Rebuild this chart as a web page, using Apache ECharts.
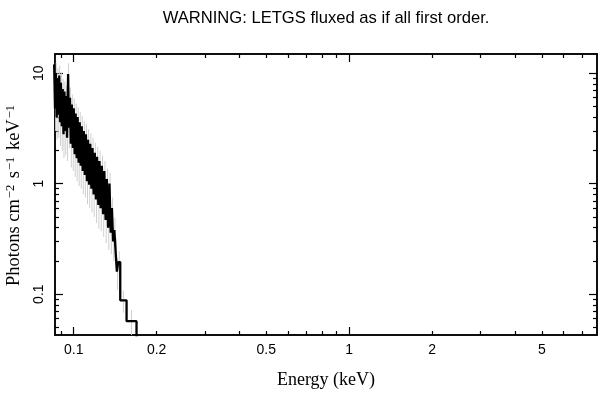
<!DOCTYPE html>
<html><head><meta charset="utf-8">
<script src="https://cdn.jsdelivr.net/npm/echarts@6/dist/echarts.min.js"></script>
<style>html,body{margin:0;padding:0;background:#fff}#c{width:608px;height:399px}</style>
</head><body><div id="c"></div>
<script>
const titleText = 'WARNING: LETGS fluxed as if all first order.';
const xName = 'Energy (keV)';
const energy = [0.0849,0.0855,0.0861,0.0867,0.0873,0.0879,0.0886,0.0892,0.0898,0.0905,0.0912,0.0918,0.0925,0.0932,0.0939,0.0946,
  0.0954,0.0961,0.0969,0.0976,0.0984,0.0992,0.1000,0.1008,0.1016,0.1025,0.1033,0.1042,
  0.1051,0.1060,0.1069,0.1078,0.1088,0.1097,0.1107,0.1117,0.1127,0.1137,0.1148,
  0.1159,0.1170,0.1181,0.1192,0.1204,0.1215,0.1228,0.1240,0.1252,
  0.1265,0.1278,0.1291,0.1305,0.1319,0.1333,0.1348,0.1362,
  0.1376,0.1390,0.1404,0.1418,0.1434,0.1450,0.1475,0.1555,0.1690];
const flux = [12.0,4.8,10.0,4.0,9.0,4.2,9.5,3.6,8.2,3.3,7.2,2.8,6.8,3.0,6.2,2.6,
  9.8,3.2,6.0,2.3,5.2,2.1,4.8,1.85,4.3,1.7,4.0,1.55,
  3.6,1.45,3.3,1.3,3.0,1.2,2.8,1.05,2.5,0.98,2.3,
  0.9,2.1,0.8,1.9,0.72,1.75,0.64,1.6,0.6,
  1.45,0.53,1.3,0.47,1.1,0.4,1.0,0.36,
  0.6,0.3,0.38,0.25,0.16,0.195,0.088,0.057,0.012];
const fluxErr = [3.0,1.8,2.4,1.5,2.1,1.6,2.2,1.4,1.9,1.3,1.7,1.1,1.6,1.2,1.5,1.0,
  2.5,1.1,1.4,0.9,1.2,0.8,1.1,0.7,1.0,0.65,0.9,0.6,
  0.85,0.55,0.8,0.5,0.7,0.45,0.65,0.4,0.6,0.38,0.55,
  0.35,0.5,0.3,0.45,0.28,0.4,0.25,0.38,0.23,
  0.34,0.2,0.3,0.18,0.27,0.15,0.25,0.13,
  0.15,0.1,0.11,0.07,0.05,0.05,0.02,0.015,0];
const xTickLabels = [0.1,0.2,0.5,1,2,5];
const xMajorTicks = [0.1,1];
const xMinorTicks = [0.09,0.2,0.3,0.4,0.5,0.6,0.7,0.8,0.9,2,3,4,5,6,7];
const yTickLabels = [0.1,1,10];
const yMajorTicks = [0.1,1,10];
const yMinorTicks = [0.05,0.06,0.07,0.08,0.09,0.2,0.3,0.4,0.5,0.6,0.7,0.8,0.9,2,3,4,5,6,7,8,9];
const X_MIN = 0.0855, X_MAX = 7.93, Y_MIN = 0.0427, Y_MAX = 14.9;

const lineData = energy.map((e,i)=>[e, flux[i]]);
const errData = [];
for (let i=0;i<energy.length-1;i++){
  if (fluxErr[i] > 0) {
    const xc = Math.sqrt(energy[i]*energy[i+1]);
    errData.push([xc, Math.max(flux[i]-fluxErr[i], 1e-4), flux[i]+fluxErr[i]]);
  }
}

const sans = 'Liberation Sans';
const serif = 'Liberation Serif';
function xAxisDef(pos, ticks, len, labels, extra){
  return Object.assign({
    type:'log', logBase:10, min:X_MIN, max:X_MAX, position:pos, gridIndex:0,
    axisLine:{show:true, onZero:false, lineStyle:{color:'#000', width:1.5}},
    axisTick:{show:true, inside:true, length:len, customValues:ticks, lineStyle:{color:'#000', width:1.2}},
    axisLabel: labels ? {show:true, customValues:labels, formatter:v=>String(+v.toPrecision(6)), color:'#000', fontFamily:sans, fontSize:14, margin:8} : {show:false},
    splitLine:{show:false}, minorTick:{show:false}, minorSplitLine:{show:false}
  }, extra||{});
}
function yAxisDef(pos, ticks, len, labels, extra){
  return Object.assign({
    type:'log', logBase:10, min:Y_MIN, max:Y_MAX, position:pos, gridIndex:0,
    axisLine:{show:true, onZero:false, lineStyle:{color:'#000', width:1.5}},
    axisTick:{show:true, inside:true, length:len, customValues:ticks, lineStyle:{color:'#000', width:1.2}},
    axisLabel: labels ? {show:true, customValues:labels, rotate:90, formatter:v=>String(+v.toPrecision(6)), color:'#000', fontFamily:sans, fontSize:14, margin:9} : {show:false},
    splitLine:{show:false}, minorTick:{show:false}, minorSplitLine:{show:false}
  }, extra||{});
}

const chart = echarts.init(document.getElementById('c'), null, {renderer:'canvas'});
chart.setOption({
  animation:false,
  backgroundColor:'#fff',
  graphic:[{type:'text', x:326, y:18, style:{text:titleText, fill:'#000', font:'16.6px "Liberation Sans"', textAlign:'center', textVerticalAlign:'middle'}}],
  grid:{left:55, right:11, top:54, bottom:64, containLabel:false, outerBoundsMode:'none'},
  xAxis:[
    xAxisDef('bottom', xMajorTicks, 8, xTickLabels, {name:xName, nameLocation:'middle', nameGap:36, nameTextStyle:{color:'#000', fontFamily:serif, fontSize:18}}),
    xAxisDef('bottom', xMinorTicks, 4, null),
    xAxisDef('top', xMajorTicks, 8, null),
    xAxisDef('top', xMinorTicks, 4, null)
  ],
  yAxis:[
    yAxisDef('left', yMajorTicks, 8, yTickLabels, {name:'Photons cm{sup|−2} s{sup|−1} keV{sup|−1}', nameLocation:'middle', nameGap:27,
      nameTextStyle:{color:'#000', fontFamily:serif, fontSize:18.5, lineHeight:20,
        rich:{sup:{fontFamily:serif, fontSize:12.5, lineHeight:11, verticalAlign:'top', color:'#000', padding:[0,2,0,1]}}}}),
    yAxisDef('left', yMinorTicks, 4, null),
    yAxisDef('right', yMajorTicks, 8, null),
    yAxisDef('right', yMinorTicks, 4, null)
  ],
  series:[
    {type:'custom', xAxisIndex:0, yAxisIndex:0, clip:true, silent:true, z:1,
     data:errData,
     renderItem:function(params, api){
       const p1 = api.coord([api.value(0), api.value(1)]);
       const p2 = api.coord([api.value(0), api.value(2)]);
       return {type:'line', shape:{x1:p1[0], y1:p1[1], x2:p2[0], y2:p2[1]}, style:{stroke:'#cfcfcf', lineWidth:1}};
     }},
    {type:'line', xAxisIndex:0, yAxisIndex:0, data:lineData, step:'end', showSymbol:false, symbol:'none', clip:true, z:2,
     lineStyle:{color:'#000', width:2.3}}
  ]
});
</script>
</body></html>
